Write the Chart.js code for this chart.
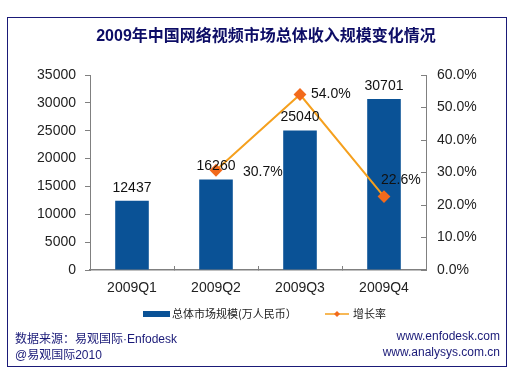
<!DOCTYPE html>
<html>
<head>
<meta charset="utf-8">
<script src="https://cdn.jsdelivr.net/npm/chart.js@4/dist/chart.umd.min.js"></script>
<style>
    body { margin: 0; background: #fff; }
    #wrap { position: relative; width: 515px; height: 375px; font-family: "Liberation Sans", "Noto Sans CJK SC", sans-serif; }
    #frame { position: absolute; left: 7px; top: 17px; width: 498px; height: 348px; border: 1.5px solid #1a1a78; }
    #title { position: absolute; left: 0; width: 532px; top: 22px; text-align: center; font-size: 16px; font-weight: bold; color: #0d0d66; }
    .foot { position: absolute; font-size: 12px; color: #1a1a78; }
    canvas { position: absolute; left: 0; top: 0; }
</style>
</head>
<body>
<div id="wrap">
    <div id="frame"></div>
    <canvas id="revenueChart" width="515" height="375"></canvas>
    <div id="title">2009年中国网络视频市场总体收入规模变化情况</div>
    <div class="foot" style="left:15px;top:329px;">数据来源：易观国际·Enfodesk</div>
    <div class="foot" style="left:15px;top:345px;">@易观国际2010</div>
    <div class="foot" style="right:15px;top:329px;">www.enfodesk.com</div>
    <div class="foot" style="right:15px;top:345px;">www.analysys.com.cn</div>
</div>
<script>
document.addEventListener("DOMContentLoaded", function () {
    // Data
    const quarters = ["2009Q1", "2009Q2", "2009Q3", "2009Q4"];
    const revenue = [12437, 16260, 25040, 30701];
    const growth = [null, 30.7, 54.0, 22.6];
    const revenueLabel = "总体市场规模(万人民币）";
    const growthLabel = "增长率";

    const colors = {
        bar: "#0a5296",
        line: "#f5a01e",
        point: "#f26a1c",
        axis: "#808080",
        text: "#222222",
    };

    // manual label nudges for the growth values (like the excel original)
    const growthLabelOffsets = [null, [27, 2], [11, 0], [-3, -16]];

    const labelsPlugin = {
        id: "valueLabels",
        afterDatasetsDraw(chart) {
            const ctx = chart.ctx;
            ctx.save();
            ctx.font = "14px 'Liberation Sans', sans-serif";
            ctx.fillStyle = "#111";

            // bar values
            ctx.textAlign = "center";
            ctx.textBaseline = "bottom";
            chart.getDatasetMeta(1).data.forEach((bar, i) => {
                ctx.fillText(String(revenue[i]), bar.x, bar.y - 6);
            });

            // growth values
            ctx.textAlign = "left";
            ctx.textBaseline = "middle";
            chart.getDatasetMeta(0).data.forEach((pt, i) => {
                if (growth[i] === null) return;
                const off = growthLabelOffsets[i];
                ctx.fillText(growth[i].toFixed(1) + "%", pt.x + off[0], pt.y + off[1]);
            });

            // legend
            const area = chart.chartArea;
            const ly = area.bottom + 44;
            ctx.font = "11px 'Noto Sans CJK SC', sans-serif";
            ctx.fillStyle = colors.bar;
            ctx.fillRect(143, ly - 3, 27, 6);
            ctx.fillStyle = "#222";
            ctx.fillText(revenueLabel, 172, ly);
            ctx.strokeStyle = colors.line;
            ctx.lineWidth = 1.5;
            ctx.beginPath();
            ctx.moveTo(325, ly);
            ctx.lineTo(349, ly);
            ctx.stroke();
            ctx.fillStyle = colors.point;
            ctx.beginPath();
            ctx.moveTo(337, ly - 3);
            ctx.lineTo(340, ly);
            ctx.lineTo(337, ly + 3);
            ctx.lineTo(334, ly);
            ctx.closePath();
            ctx.fill();
            ctx.fillStyle = "#222";
            ctx.fillText(growthLabel, 353, ly);
            ctx.restore();
        },
    };

    const tickFont = { size: 14, family: "'Liberation Sans', sans-serif" };

    const canvas = document.getElementById("revenueChart");
    if (canvas) {
        new Chart(canvas.getContext("2d"), {
            type: "bar",
            data: {
                labels: quarters,
                datasets: [
                    {
                        type: "line",
                        label: growthLabel,
                        data: growth,
                        yAxisID: "y1",
                        borderColor: colors.line,
                        borderWidth: 2,
                        pointStyle: "rectRot",
                        pointRadius: 5,
                        pointBackgroundColor: colors.point,
                        pointBorderColor: colors.point,
                        tension: 0,
                        order: 0,
                    },
                    {
                        type: "bar",
                        label: revenueLabel,
                        data: revenue,
                        yAxisID: "y",
                        backgroundColor: colors.bar,
                        categoryPercentage: 0.8,
                        barPercentage: 0.5,
                        order: 1,
                    },
                ],
            },
            options: {
                responsive: false,
                animation: false,
                events: [],
                layout: {
                    padding: { top: 75, bottom: 75, left: 0, right: 0 },
                },
                plugins: {
                    legend: { display: false },
                    tooltip: { enabled: false },
                },
                scales: {
                    x: {
                        offset: true,
                        grid: {
                            display: true,
                            drawOnChartArea: false,
                            offset: true,
                            tickLength: -4,
                            color: colors.axis,
                        },
                        border: { color: colors.axis, width: 1.5 },
                        ticks: { font: tickFont, color: colors.text, padding: 14 },
                        afterFit(scale) { scale.height = 30; },
                    },
                    y: {
                        position: "left",
                        min: 0,
                        max: 35000,
                        grid: {
                            drawOnChartArea: false,
                            tickLength: 5,
                            color: colors.axis,
                        },
                        border: { color: colors.axis, width: 1 },
                        ticks: {
                            stepSize: 5000,
                            font: tickFont,
                            color: colors.text,
                            padding: 9,
                            callback: (v) => String(v),
                        },
                        afterFit(scale) { scale.width = 90; },
                    },
                    y1: {
                        position: "right",
                        min: 0,
                        max: 60,
                        grid: {
                            drawOnChartArea: false,
                            tickLength: -5,
                            color: colors.axis,
                        },
                        border: { color: colors.axis, width: 1 },
                        ticks: {
                            stepSize: 10,
                            font: tickFont,
                            color: colors.text,
                            padding: 16,
                            callback: (v) => v.toFixed(1) + "%",
                        },
                        afterFit(scale) { scale.width = 89; },
                    },
                },
            },
            plugins: [labelsPlugin],
        });
    } else {
        console.error("revenueChart element not found");
    }
});
</script>
</body>
</html>
